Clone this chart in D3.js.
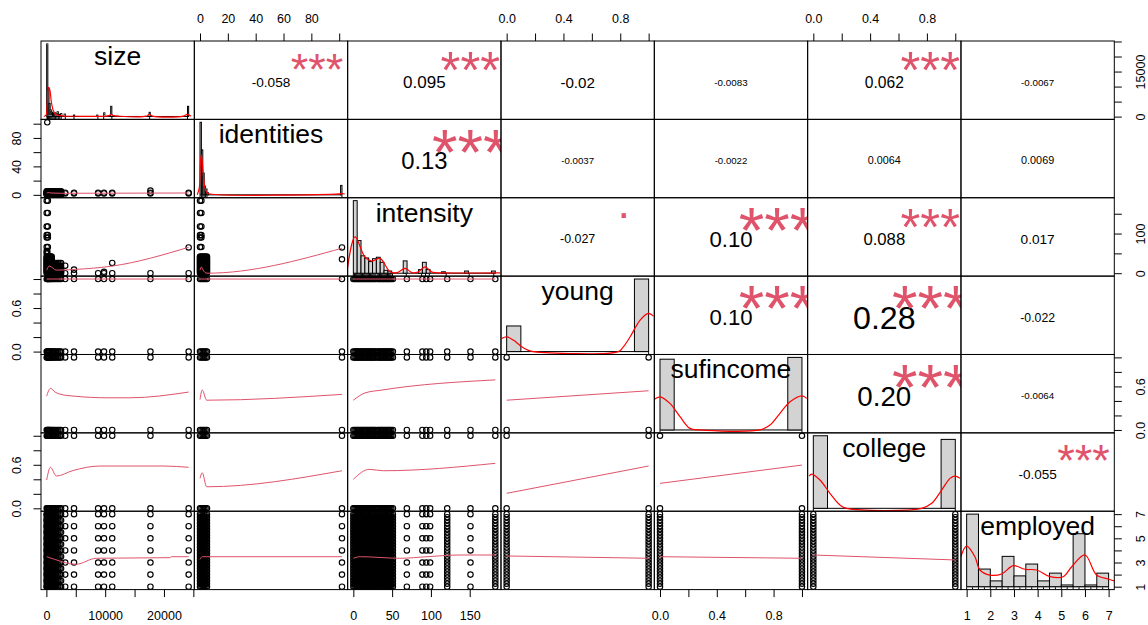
<!DOCTYPE html>
<html>
<head>
<meta charset="utf-8">
<script src="https://cdn.jsdelivr.net/npm/d3@7"></script>
<style>
  body { margin: 0; background: #fff; }
  svg { display: block; font-family: "Liberation Sans", Arial, sans-serif; }
</style>
</head>
<body>
<svg id="chart" width="1148" height="625"></svg>
<script>
// ---------- variables ----------
const variables = ["size", "identities", "intensity", "young", "sufincome", "college", "employed"];

// ---------- observed values ----------
const sizeDense = [50, 150, 250, 350, 450, 600, 750, 900, 1100, 1300, 1500, 1750, 2000, 2250, 2500];
const sizeSparse = [3200, 4700, 8800, 9800, 11200, 17700, 24200];
const identitiesLow = [0, 1, 2, 3, 4, 5];
const identitiesHigh = [102];
const intensityDense = [0, 1.5, 3, 4.5, 6, 7.5, 9, 10.5, 12, 13.5, 15, 16.5, 18, 19.5, 21, 22.5, 24, 25.5, 27, 28.5,
                        31, 32.5, 34, 35.5, 37, 38.5, 40, 41.5, 43, 44.5, 46, 47.5, 49, 51];
const intensityLow = [0, 3, 6, 9, 12, 15, 18, 21, 24, 27, 30, 33, 36, 39, 42];
const intensitySparse = [69, 89, 94, 99, 121, 151, 183];
const intensityHigh = [66, 90, 96, 118, 152, 183];
const binaryValues = [0, 1];
const employedLevels = [1, 2, 3, 4, 5, 6, 7];
const employedHalves = [1, 1.5, 2, 2.5, 3, 3.5, 4, 4.5, 5, 5.5, 6, 6.5, 7];
const employedFine = [1, 1.25, 1.5, 1.75, 2, 2.25, 2.5, 2.75, 3, 3.25, 3.5, 3.75, 4,
                      4.25, 4.5, 4.75, 5, 5.25, 5.5, 5.75, 6, 6.25, 6.5, 6.75, 7];

const sizeAll = sizeDense.concat(sizeSparse);
const identitiesAll = identitiesLow.concat(identitiesHigh);
const intensityAll = intensityDense.concat(intensitySparse);

// ---------- correlations (upper triangle) ----------
const corrLabels = [
  [null, "-0.058", "0.095", "-0.02", "-0.0083", "0.062", "-0.0067"],
  [null, null, "0.13", "-0.0037", "-0.0022", "0.0064", "0.0069"],
  [null, null, null, "-0.027", "0.10", "0.088", "0.017"],
  [null, null, null, null, "0.10", "0.28", "-0.022"],
  [null, null, null, null, null, "0.20", "-0.0064"],
  [null, null, null, null, null, null, "-0.055"]
];
const corrStars = [
  [null, "***", "***", "", "", "***", ""],
  [null, null, "***", "", "", "", ""],
  [null, null, null, ".", "***", "***", ""],
  [null, null, null, null, "***", "***", ""],
  [null, null, null, null, null, "***", ""],
  [null, null, null, null, null, null, "***"]
];

// ---------- scatter point sets: each set is the cross of x values and y values ----------
const scatterGroups = [
  { y: "identities", x: "size", sets: [[sizeDense, identitiesLow], [sizeSparse, [2, 3]], [[17700], [6]], [[150], identitiesHigh]] },
  { y: "intensity", x: "size", sets: [[sizeDense.slice(0, 8), intensityLow], [sizeDense.slice(8), [0, 4, 8, 12, 18, 26]],
      [[50, 250], intensityHigh], [[50, 150], [50, 56]],
      [[3200], [0, 19]], [[4700], [0, 9]], [[8800], [0]], [[9800], [0, 3.5]], [[11200], [0, 26]], [[17700], [0]], [[24200], [0, 65]]] },
  { y: "intensity", x: "identities", sets: [[identitiesLow, intensityLow], [[0, 1], intensityHigh], [identitiesHigh, [35, 65]]] },
  { y: "young", x: "size", sets: [[sizeAll, binaryValues]] },
  { y: "young", x: "identities", sets: [[identitiesAll, binaryValues]] },
  { y: "young", x: "intensity", sets: [[intensityAll, binaryValues]] },
  { y: "sufincome", x: "size", sets: [[sizeAll, binaryValues]] },
  { y: "sufincome", x: "identities", sets: [[identitiesAll, binaryValues]] },
  { y: "sufincome", x: "intensity", sets: [[intensityAll, binaryValues]] },
  { y: "sufincome", x: "young", sets: [[binaryValues, binaryValues]] },
  { y: "college", x: "size", sets: [[sizeAll, binaryValues]] },
  { y: "college", x: "identities", sets: [[identitiesAll, binaryValues]] },
  { y: "college", x: "intensity", sets: [[intensityAll, binaryValues]] },
  { y: "college", x: "young", sets: [[binaryValues, binaryValues]] },
  { y: "college", x: "sufincome", sets: [[binaryValues, binaryValues]] },
  { y: "employed", x: "size", sets: [[sizeDense, employedHalves], [sizeDense.slice(0, 10), employedFine], [sizeSparse, employedLevels]] },
  { y: "employed", x: "identities", sets: [[identitiesLow, employedFine], [identitiesHigh, employedLevels]] },
  { y: "employed", x: "intensity", sets: [[intensityDense, employedFine],
      [[69, 89, 94, 99, 151], employedLevels], [[121, 183], employedFine]] },
  { y: "employed", x: "young", sets: [[binaryValues, employedFine]] },
  { y: "employed", x: "sufincome", sets: [[binaryValues, employedFine]] },
  { y: "employed", x: "college", sets: [[binaryValues, employedFine]] }
];

// ---------- smoothers for the lower panels ----------
const smoothLines = [
  { y: "identities", x: "size", pts: [[50, 2.4], [300, 3.2], [800, 2.6], [2500, 2.2], [10000, 2.3], [24200, 2.6]] },
  { y: "intensity", x: "size", pts: [[50, 7.8], [500, 18], [1700, 7.8], [4900, 9.6], [11200, 18], [24200, 65.4]] },
  { y: "intensity", x: "identities", pts: [[0, 8], [1, 16], [2, 9], [5, 0], [102, 63]] },
  { y: "young", x: "size", pts: [[50, 1], [24200, 1]] },
  { y: "young", x: "identities", pts: [[0, 1], [102, 1]] },
  { y: "young", x: "intensity", pts: [[0, 1], [183, 1]] },
  { y: "sufincome", x: "size", pts: [[50, 0.467], [690, 0.573], [1500, 0.52], [2500, 0.49], [4540, 0.467], [10500, 0.443], [14200, 0.443], [24200, 0.522]] },
  { y: "sufincome", x: "identities", pts: [[0, 0.42], [1.6, 0.55], [4.8, 0.41], [102, 0.49]] },
  { y: "sufincome", x: "intensity", pts: [[0, 0.41], [15, 0.51], [37, 0.55], [183, 0.69]] },
  { y: "sufincome", x: "young", pts: [[0, 0.41], [1, 0.54]] },
  { y: "college", x: "size", pts: [[50, 0.39], [690, 0.565], [1700, 0.445], [4500, 0.52], [9090, 0.583], [20000, 0.583], [24200, 0.565]] },
  { y: "college", x: "identities", pts: [[0, 0.413], [1.6, 0.49], [4.8, 0.297], [102, 0.518]] },
  { y: "college", x: "intensity", pts: [[0, 0.40], [20.6, 0.537], [38.7, 0.518], [183, 0.62]] },
  { y: "college", x: "young", pts: [[0, 0.207], [1, 0.583]] },
  { y: "college", x: "sufincome", pts: [[0, 0.344], [1, 0.596]] },
  { y: "employed", x: "size", pts: [[50, 3.48], [1400, 3.26], [5000, 2.85], [8500, 3.35], [21000, 3.4], [21300, 3.48], [24200, 3.48]] },
  { y: "employed", x: "identities", pts: [[0, 3.26], [1.6, 3.48], [4.8, 3.48], [102, 3.48]] },
  { y: "employed", x: "intensity", pts: [[0, 3.35], [9, 3.48], [60, 3.35], [95, 3.48], [136, 3.62], [183, 3.62]] },
  { y: "employed", x: "young", pts: [[0, 3.54], [1, 3.35]] },
  { y: "employed", x: "sufincome", pts: [[0, 3.48], [1, 3.35]] },
  { y: "employed", x: "college", pts: [[0, 3.62], [1, 3.21]] }
];

// ---------- histograms (bin start, relative density) and density curves ----------
const sizeHist = [[0, 1], [200, 0.39], [400, 0.18], [600, 0.09], [800, 0.06], [1000, 0.05], [1200, 0.04], [1400, 0.05],
  [1600, 0.03], [1800, 0.065], [2000, 0.03], [2200, 0.02], [2400, 0.04], [3000, 0.033], [4600, 0.019], [8600, 0.019],
  [9800, 0.05], [11000, 0.14], [17600, 0.057], [24200, 0.14]];
const sizeDensity = [[-500, 0], [-100, 0.02], [100, 0.2], [300, 0.40], [500, 0.38], [800, 0.2], [1100, 0.088], [1500, 0.03],
  [2000, 0.015], [3000, 0.006], [5000, 0.003], [10000, 0.003], [10700, 0.012], [11100, 0.029], [11500, 0.012], [12500, 0.003],
  [17100, 0.004], [17650, 0.029], [18200, 0.004], [23500, 0.004], [24150, 0.029], [24800, 0.004]];
const identitiesHist = [[0, 1], [1, 0.62], [2, 0.3], [3, 0.12], [4, 0.08], [5, 0.03], [101, 0.13]];
const identitiesDensity = [[-2, 0], [-0.5, 0.1], [0.3, 0.45], [0.9, 0.55], [1.6, 0.45], [2.5, 0.25], [3.5, 0.1], [5, 0.03],
  [7, 0.012], [100, 0.012], [102, 0.018], [104, 0.012]];
const intensityHist = [[0, 1], [5, 0.45], [10, 0.24], [15, 0.21], [20, 0.16], [25, 0.2], [30, 0.22], [35, 0.15], [40, 0.04],
  [45, 0.03], [65, 0.17], [85, 0.05], [90, 0.15], [95, 0.05], [115, 0.02], [145, 0.03], [180, 0.03]];
const intensityDensity = [[-8, 0.043], [2.2, 0.50], [15, 0.226], [24, 0.167], [34.8, 0.204], [47.8, 0.02], [57, 0.008],
  [67.4, 0.066], [76.5, 0.008], [84, 0.015], [93.4, 0.088], [102.5, 0.015], [119.5, 0.005], [191, 0.005]];
const youngHist = [[0, 0.353], [0.9, 1]];
const youngDensity = [[-0.035, 0.18], [0, 0.204], [0.047, 0.158], [0.106, 0.066], [0.15, 0.02], [0.188, 0], [0.787, 0],
  [0.82, 0.06], [0.87, 0.204], [0.94, 0.434], [0.999, 0.526], [1.034, 0.489]];
const sufincomeHist = [[0, 0.975], [0.9, 1]];
const sufincomeDensity = [[-0.047, 0.412], [0, 0.457], [0.07, 0.366], [0.141, 0.182], [0.211, 0.022], [0.28, 0], [0.704, 0],
  [0.775, 0.067], [0.845, 0.229], [0.916, 0.388], [0.999, 0.471], [1.034, 0.435]];
const collegeHist = [[0, 1], [0.9, 0.95]];
const collegeDensity = [[-0.029, 0.445], [-0.012, 0.472], [0.047, 0.39], [0.117, 0.207], [0.188, 0.045], [0.235, 0],
  [0.763, 0], [0.834, 0.069], [0.904, 0.252], [0.963, 0.413], [0.998, 0.445], [1.033, 0.413]];
const employedHist = [[1, 1], [1.5, 0.243], [2, 0.08], [2.5, 0.418], [3, 0.149], [3.5, 0.312], [4, 0.08], [4.5, 0.187],
  [5, 0.024], [5.5, 0.73], [6, 0.024], [6.5, 0.187]];
const employedDensity = [[0.746, 0.405], [1, 0.56], [1.35, 0.413], [1.56, 0.23], [1.98, 0.16], [2.48, 0.175], [2.97, 0.29],
  [3.46, 0.24], [3.96, 0.23], [4.52, 0.138], [5.08, 0.138], [5.44, 0.275], [6, 0.437], [6.49, 0.161], [6.98, 0.106], [7.27, 0.077]];

const histograms = {
  size:      { bins: sizeHist, width: 200, breaks: [0, 24400], density: sizeDensity },
  identities:{ bins: identitiesHist, width: 1, breaks: [0, 102], density: identitiesDensity },
  intensity: { bins: intensityHist, width: 5, breaks: [0, 185], density: intensityDensity },
  young:     { bins: youngHist, width: 0.1, breaks: [0, 1], density: youngDensity },
  sufincome: { bins: sufincomeHist, width: 0.1, breaks: [0, 1], density: sufincomeDensity },
  college:   { bins: collegeHist, width: 0.1, breaks: [0, 1], density: collegeDensity },
  employed:  { bins: employedHist, width: 0.5, breaks: [1, 7], density: employedDensity }
};

// ---------- axis ticks and labels ----------
const sizeTicks = [0, 5000, 10000, 15000, 20000, 25000];
const sizeBottomLabels = ["0", "", "10000", "", "20000", ""];
const sizeRightLabels = ["0", "", "", "15000", "", ""];
const identitiesTicks = [0, 20, 40, 60, 80, 100];
const identitiesTopLabels = ["0", "20", "40", "60", "80", ""];
const identitiesLeftLabels = ["0", "", "40", "", "80", ""];
const intensityTicks = [0, 50, 100, 150];
const intensityBottomLabels = ["0", "50", "100", "150"];
const intensityRightLabels = ["0", "", "100", ""];
const unitTicks = [0, 0.2, 0.4, 0.6, 0.8, 1];
const unitTopLabels = ["0.0", "", "0.4", "", "0.8", ""];
const unitSideLabels = ["0.0", "", "", "0.6", "", ""];
const employedTicks = [1, 2, 3, 4, 5, 6, 7];
const employedBottomLabels = ["1", "2", "3", "4", "5", "6", "7"];
const employedRightLabels = ["1", "", "3", "", "5", "", "7"];

const axisSpecs = [
  { v: "size", side: "bottom", ticks: sizeTicks, labels: sizeBottomLabels },
  { v: "size", side: "right", ticks: sizeTicks, labels: sizeRightLabels },
  { v: "identities", side: "top", ticks: identitiesTicks, labels: identitiesTopLabels },
  { v: "identities", side: "left", ticks: identitiesTicks, labels: identitiesLeftLabels },
  { v: "intensity", side: "bottom", ticks: intensityTicks, labels: intensityBottomLabels },
  { v: "intensity", side: "right", ticks: intensityTicks, labels: intensityRightLabels },
  { v: "young", side: "top", ticks: unitTicks, labels: unitTopLabels },
  { v: "young", side: "left", ticks: unitTicks, labels: unitSideLabels },
  { v: "sufincome", side: "bottom", ticks: unitTicks, labels: unitTopLabels },
  { v: "sufincome", side: "right", ticks: unitTicks, labels: unitSideLabels },
  { v: "college", side: "top", ticks: unitTicks, labels: unitTopLabels },
  { v: "college", side: "left", ticks: unitTicks, labels: unitSideLabels },
  { v: "employed", side: "bottom", ticks: employedTicks, labels: employedBottomLabels },
  { v: "employed", side: "right", ticks: employedTicks, labels: employedRightLabels }
];

// ---------- layout ----------
const svg = d3.select("#chart");
const n = variables.length;
const gridLeft = 41, gridTop = 41, gridRight = 1114.3, gridBottom = 589.6;
const cellW = (gridRight - gridLeft) / n;
const cellH = (gridBottom - gridTop) / n;
const starRed = "#DF536B";

const valueSets = {
  size: sizeAll, identities: identitiesAll, intensity: intensityAll,
  young: binaryValues, sufincome: binaryValues, college: binaryValues, employed: employedFine
};
const padRange = ext => { const r = ext[1] - ext[0]; return [ext[0] - 0.04 * r, ext[1] + 0.04 * r]; };
const xScale = {}, yScale = {};
variables.forEach(v => {
  const dom = padRange(d3.extent(valueSets[v]));
  xScale[v] = d3.scaleLinear().domain(dom).range([0, cellW]);
  yScale[v] = d3.scaleLinear().domain(dom).range([cellH, 0]);
});

svg.append("defs").append("clipPath").attr("id", "cellClip")
  .append("rect").attr("x", 0).attr("y", 0).attr("width", cellW).attr("height", cellH);

const cellOrigin = (i, j) => [gridLeft + j * cellW, gridTop + i * cellH];
const cell = (i, j) => {
  const [x, y] = cellOrigin(i, j);
  return svg.append("g").attr("transform", `translate(${x},${y})`);
};

// ---------- lower panels: scatter + smoother ----------
scatterGroups.forEach(g => {
  const i = variables.indexOf(g.y), j = variables.indexOf(g.x);
  const inner = cell(i, j).append("g").attr("clip-path", "url(#cellClip)");
  const pts = g.sets.flatMap(([xs, ys]) => d3.cross(xs, ys));
  inner.selectAll("circle").data(pts).join("circle")
    .attr("cx", d => xScale[g.x](d[0]))
    .attr("cy", d => yScale[g.y](d[1]))
    .attr("r", 2.7)
    .attr("fill", "none")
    .attr("stroke", "#000")
    .attr("stroke-width", 1.15);
  const sm = smoothLines.find(s => s.x === g.x && s.y === g.y);
  if (sm) {
    inner.append("path")
      .attr("d", d3.line().x(d => xScale[g.x](d[0])).y(d => yScale[g.y](d[1])).curve(d3.curveMonotoneX)(sm.pts))
      .attr("fill", "none").attr("stroke", starRed).attr("stroke-width", 1);
  }
});

// ---------- diagonal panels: histogram, density, rug, name ----------
variables.forEach((v, i) => {
  const hcfg = histograms[v];
  const g = cell(i, i);
  const inner = g.append("g").attr("clip-path", "url(#cellClip)");
  const hx = d3.scaleLinear().domain(padRange(hcfg.breaks)).range([0, cellW]);
  const hy = d3.scaleLinear().domain([-0.04, 1.04]).range([cellH, 0]);
  // zero-height bins show up as a baseline
  inner.append("line")
    .attr("x1", hx(hcfg.breaks[0])).attr("x2", hx(hcfg.breaks[1]))
    .attr("y1", hy(0)).attr("y2", hy(0))
    .attr("stroke", "#000").attr("stroke-width", 1);
  inner.selectAll("rect.bar").data(hcfg.bins).join("rect")
    .attr("class", "bar")
    .attr("x", d => hx(d[0]))
    .attr("width", d => hx(d[0] + hcfg.width) - hx(d[0]))
    .attr("y", d => hy(d[1]))
    .attr("height", d => hy(0) - hy(d[1]))
    .attr("fill", "#D3D3D3").attr("stroke", "#000").attr("stroke-width", 1);
  inner.append("path")
    .attr("d", d3.line().x(d => hx(d[0])).y(d => hy(d[1])).curve(d3.curveCatmullRom)(hcfg.density))
    .attr("fill", "none").attr("stroke", "#FF0000").attr("stroke-width", 1.2);
  inner.selectAll("line.rug").data(valueSets[v]).join("line")
    .attr("class", "rug")
    .attr("x1", d => hx(d)).attr("x2", d => hx(d))
    .attr("y1", cellH).attr("y2", cellH - 0.03 * cellH)
    .attr("stroke", "#000").attr("stroke-width", 1);
  g.append("text")
    .attr("x", cellW / 2).attr("y", 24)
    .attr("text-anchor", "middle")
    .attr("font-size", 26.5)
    .attr("fill", "#000")
    .text(v);
});

// ---------- upper panels: correlation value + significance ----------
const measurer = svg.append("text").attr("font-size", 100).attr("visibility", "hidden");
const textWidth = s => { measurer.text(s); return measurer.node().getComputedTextLength(); };
corrLabels.forEach((row, i) => row.forEach((txt, j) => {
  if (txt === null) return;
  const r = Math.abs(parseFloat(txt));
  const g = cell(i, j);
  const base = 0.8 * cellW * 1.04 / textWidth(txt) * 100;
  const size = base * (r + 0.3) / 1.3 * 1.1;
  g.append("text")
    .attr("x", cellW / 2)
    .attr("y", cellH / 2 + 2 + 0.358 * size)
    .attr("text-anchor", "middle")
    .attr("font-size", size)
    .attr("fill", "#000")
    .text(txt);
  const sig = corrStars[i][j];
  if (sig) {
    const inner = g.append("g").attr("clip-path", "url(#cellClip)");
    const isDot = sig === ".";
    inner.append("text")
      .attr("x", 0.8 * cellW)
      .attr("y", 0.2 * cellH + 2 + (isDot ? 0.05 : 0.575) * base)
      .attr("text-anchor", "middle")
      .attr("font-size", base)
      .attr("fill", starRed)
      .text(sig);
  }
}));
measurer.remove();

// ---------- panel borders ----------
for (let i = 0; i < n; i++) for (let j = 0; j < n; j++) {
  const [x, y] = cellOrigin(i, j);
  svg.append("rect").attr("x", x).attr("y", y).attr("width", cellW).attr("height", cellH)
    .attr("fill", "none").attr("stroke", "#000").attr("stroke-width", 1);
}

// ---------- axes ----------
axisSpecs.forEach(spec => {
  const k = variables.indexOf(spec.v);
  const fmt = (d, idx) => spec.labels[idx];
  let g, axis;
  if (spec.side === "top" || spec.side === "bottom") {
    const x0 = gridLeft + k * cellW;
    const yPos = spec.side === "top" ? gridTop : gridBottom;
    axis = (spec.side === "top" ? d3.axisTop(xScale[spec.v]) : d3.axisBottom(xScale[spec.v]))
      .tickValues(spec.ticks).tickFormat(fmt).tickSize(7.5).tickSizeOuter(0)
      .tickPadding(spec.side === "top" ? 11 : 14.5);
    g = svg.append("g").attr("transform", `translate(${x0},${yPos})`).call(axis);
  } else {
    const y0 = gridTop + k * cellH;
    const xPos = spec.side === "left" ? gridLeft : gridRight;
    axis = (spec.side === "left" ? d3.axisLeft(yScale[spec.v]) : d3.axisRight(yScale[spec.v]))
      .tickValues(spec.ticks).tickFormat(fmt).tickSize(7.5).tickSizeOuter(0);
    g = svg.append("g").attr("transform", `translate(${xPos},${y0})`).call(axis);
    const off = spec.side === "left" ? -20 : 31;
    g.selectAll(".tick text")
      .attr("x", null).attr("dy", null)
      .attr("transform", `translate(${off},0) rotate(-90)`)
      .attr("text-anchor", "middle");
  }
  g.select(".domain").remove();
  g.selectAll(".tick line").attr("stroke", "#000");
  g.selectAll(".tick text").attr("font-size", 12.5).attr("fill", "#000")
    .attr("font-family", "'Liberation Sans', Arial, sans-serif");
});
</script>
</body>
</html>
